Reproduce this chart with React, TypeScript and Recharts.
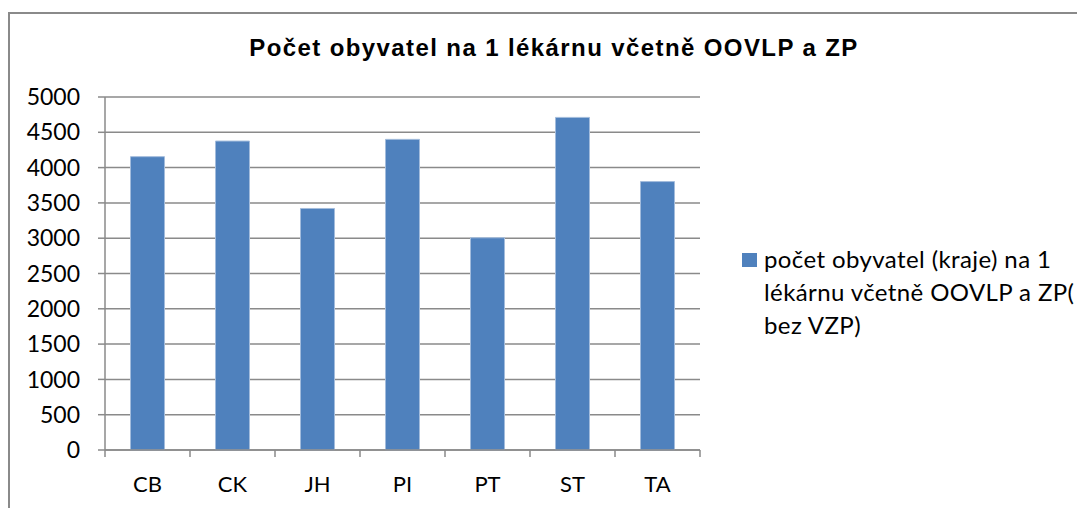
import { BarChart, Bar, XAxis, YAxis, CartesianGrid, Legend } from 'recharts';

const categories = ['CB', 'CK', 'JH', 'PI', 'PT', 'ST', 'TA'];
const values = [4155, 4376, 3421, 4400, 3006, 4711, 3802];
const yTicks = [0, 500, 1000, 1500, 2000, 2500, 3000, 3500, 4000, 4500, 5000];
const title = 'Počet obyvatel na 1 lékárnu včetně OOVLP a ZP';
const legendLines = ['počet obyvatel (kraje) na 1', 'lékárnu včetně OOVLP a ZP(', 'bez VZP)'];
const seriesName = legendLines.join(' ');

const data = categories.map((region, i) => ({ region, value: values[i] }));

const GRID = '#8a8a8a';
const BAR = '#4F81BD';
const FONT = 'Lato, "Open Sans", sans-serif';

// ticks sit between the categories, like in Excel
const XTick = (props: any) => {
  const { x, y, payload, index, visibleTicksCount, width } = props;
  const half = payload?.offset || (width && visibleTicksCount ? width / visibleTicksCount / 2 : 0);
  const last = index === visibleTicksCount - 1;
  return (
    <g>
      <line x1={x - half} x2={x - half} y1={y} y2={y + 7} stroke={GRID} strokeWidth={1.5} />
      {last && <line x1={x + half} x2={x + half} y1={y} y2={y + 7} stroke={GRID} strokeWidth={1.5} />}
      <text x={x} y={y + 42} textAnchor="middle" fill="#000" fontSize={22} fontFamily={FONT}>
        {payload.value}
      </text>
    </g>
  );
};

const LegendBox = () => (
  <div style={{ position: 'relative', fontFamily: FONT, fontSize: 24, letterSpacing: '0.4px', lineHeight: '33px', color: '#000' }}>
    <div style={{ position: 'absolute', left: 0, top: 11, width: 15, height: 14, background: BAR }} />
    <div style={{ marginLeft: 22, whiteSpace: 'nowrap' }}>
      {legendLines.map((l) => (
        <div key={l}>{l}</div>
      ))}
    </div>
  </div>
);

export default function App() {
  return (
    <div style={{ position: 'absolute', left: 0, top: 0, width: 1077, height: 508, overflow: 'hidden', background: '#fff' }}>
      <div
        style={{
          position: 'absolute', left: 8, top: 12, width: 1200, height: 600,
          borderLeft: `2px solid ${GRID}`, borderTop: `2px solid ${GRID}`,
        }}
      />
      <div
        style={{
          position: 'absolute', left: 204, top: 36, width: 700, textAlign: 'center',
          fontFamily: '"Liberation Sans", Arial, sans-serif', fontWeight: 'bold', fontSize: 24,
          letterSpacing: '1.4px', lineHeight: '24px',
        }}
      >
        {title}
      </div>
      <BarChart
        width={1077}
        height={508}
        data={data}
        margin={{ top: 97, right: 47, bottom: 8, left: 0 }}
        barCategoryGap="30%"
        style={{ position: 'absolute', left: 0, top: 0 }}
      >
        <CartesianGrid vertical={false} stroke={GRID} strokeWidth={1.5} />
        <XAxis
          dataKey="region"
          height={50}
          axisLine={{ stroke: GRID, strokeWidth: 1.5 }}
          tickLine={false}
          tickSize={0}
          tickMargin={0}
          interval={0}
          tick={<XTick />}
        />
        <YAxis
          width={105}
          domain={[0, 5000]}
          ticks={yTicks}
          interval={0}
          axisLine={{ stroke: GRID, strokeWidth: 1.5 }}
          tickLine={{ stroke: GRID, strokeWidth: 1.5 }}
          tickSize={7}
          tickMargin={18}
          tick={{ fill: '#000', fontSize: 23, fontFamily: FONT }}
        />
        <Legend
          layout="vertical"
          align="right"
          verticalAlign="middle"
          content={<LegendBox />}
          wrapperStyle={{ left: 742, top: 242, right: undefined, width: 330 }}
        />
        <Bar dataKey="value" name={seriesName} fill={BAR} stroke="#a3bcdc" strokeWidth={1} isAnimationActive={false} />
      </BarChart>
    </div>
  );
}
